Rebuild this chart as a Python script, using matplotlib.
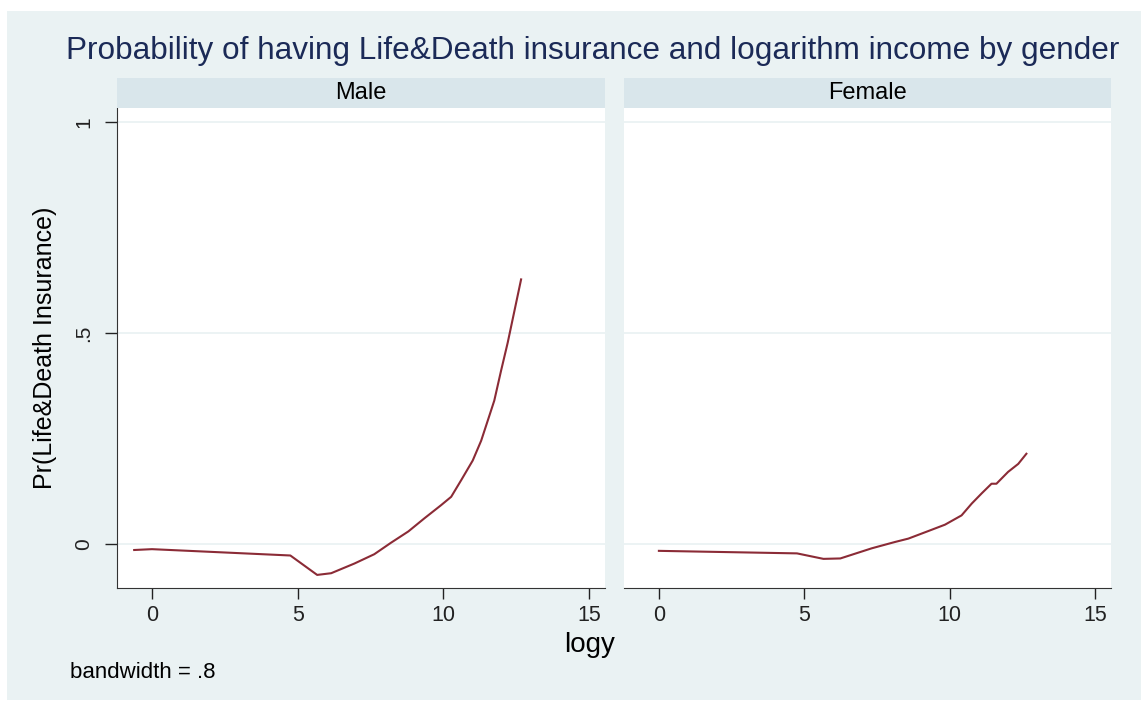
import matplotlib
matplotlib.use("Agg")
import matplotlib.pyplot as plt
from matplotlib.patches import Rectangle

plt.rcParams['font.family'] = ['Liberation Sans', 'DejaVu Sans']

# lowess curves
male_x = [-0.61, 0.0, 4.75, 5.67, 6.15, 6.95, 7.63, 8.2, 8.8, 9.35, 9.92, 10.27,
          10.61, 11.01, 11.3, 11.58, 11.75, 11.98, 12.21, 12.44, 12.67]
male_y = [-0.014, -0.012, -0.027, -0.073, -0.069, -0.046, -0.024, 0.003, 0.03,
          0.061, 0.092, 0.112, 0.151, 0.198, 0.245, 0.304, 0.34, 0.41, 0.477,
          0.552, 0.627]

female_x = [0.0, 4.75, 5.66, 6.24, 7.32, 8.12, 8.58, 9.27, 9.84, 10.41, 10.76,
            11.1, 11.44, 11.61, 12.01, 12.36, 12.64]
female_y = [-0.016, -0.022, -0.035, -0.034, -0.010, 0.005, 0.013, 0.031, 0.046,
            0.068, 0.096, 0.12, 0.143, 0.143, 0.171, 0.19, 0.214]

panels = ["Male", "Female"]
xticks = [0, 5, 10, 15]
yticks = [0, 0.5, 1]
ytick_labels = ["0", ".5", "1"]

W, H = 1141, 702
bg = "#EAF2F3"
strip_col = "#D9E6EB"
line_col = "#8B2B36"

fig = plt.figure(figsize=(W / 100, H / 100), dpi=100)
fig.patch.set_facecolor("white")
fig.patches.append(Rectangle((7 / W, 2 / H), 1 - 7 / W, 1 - 13 / H,
                             transform=fig.transFigure, facecolor=bg,
                             edgecolor="none", zorder=-10))


def px(x0, y0, x1, y1):
    return [x0 / W, 1 - y1 / H, (x1 - x0) / W, (y1 - y0) / H]


lefts = [117, 624]
rights = [605, 1111]
data = [(male_x, male_y), (female_x, female_y)]

for i, name in enumerate(panels):
    ax = fig.add_axes(px(lefts[i], 108, rights[i], 588))
    ax.set_facecolor("white")
    xs, ys = data[i]
    ax.plot(xs, ys, color=line_col, lw=1.5, zorder=3)
    ax.set_xlim(-1.2, 15.55)
    ax.set_ylim(-0.104, 1.033)
    for yv in yticks:
        ax.axhline(yv, color=bg, lw=1.3, zorder=1)
    ax.set_xticks(xticks)
    ax.set_xticklabels([str(t) for t in xticks], fontsize=15.5)
    ax.tick_params(axis="x", length=8, width=1, colors="#222222", pad=4)
    for s in ["top", "right"]:
        ax.spines[s].set_visible(False)
    ax.spines["bottom"].set_color("#333333")
    if i == 0:
        ax.set_yticks(yticks)
        ax.set_yticklabels(ytick_labels, fontsize=15, rotation=90, va="center")
        ax.tick_params(axis="y", length=9, width=1, colors="#222222", pad=8)
        ax.spines["left"].set_color("#333333")
    else:
        ax.set_yticks([])
        ax.spines["left"].set_visible(False)

    sax = fig.add_axes(px(lefts[i], 78, rights[i], 108))
    sax.set_facecolor(strip_col)
    sax.set_xticks([])
    sax.set_yticks([])
    for s in sax.spines.values():
        s.set_visible(False)
    sax.text(0.5, 0.5, name, ha="center", va="center", fontsize=17,
             transform=sax.transAxes)

fig.text(593 / W, 1 - 51 / H, "Probability of having Life&Death insurance and logarithm income by gender",
         ha="center", va="center", fontsize=22.7, color="#1B2A57")
fig.text(45 / W, 1 - 348 / H, "Pr(Life&Death Insurance)", rotation=90,
         ha="center", va="center", fontsize=18)
fig.text(590 / W, 1 - 645 / H, "logy", ha="center", va="center", fontsize=20)
fig.text(70 / W, 1 - 672 / H, "bandwidth = .8", ha="left", va="center", fontsize=16)

fig.savefig("out.png", dpi=100, facecolor=fig.get_facecolor())
